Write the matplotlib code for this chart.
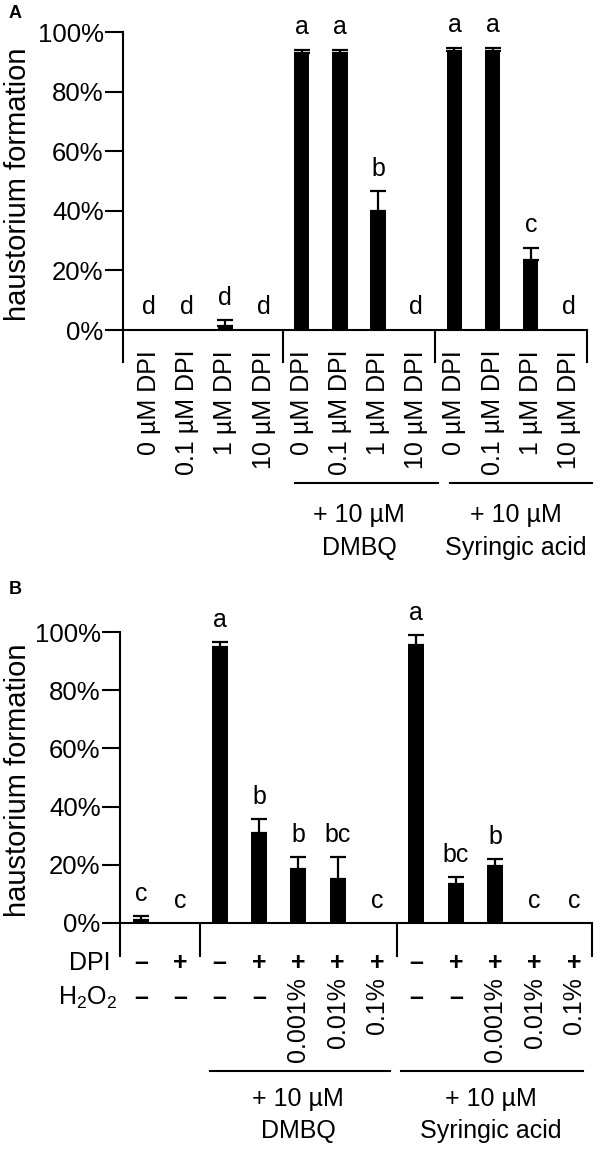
import numpy as np
import matplotlib
matplotlib.use("Agg")
import matplotlib.pyplot as plt
from matplotlib.transforms import blended_transform_factory

plt.rcParams.update({
    "font.family": ["Liberation Sans", "DejaVu Sans"],
    "mathtext.fontset": "custom",
    "mathtext.rm": "Liberation Sans",
    "axes.linewidth": 1.5,
})

# ---- data, panel A ----
a_labels = ["0 µM DPI", "0.1 µM DPI", "1 µM DPI", "10 µM DPI",
            "0 µM DPI", "0.1 µM DPI", "1 µM DPI", "10 µM DPI",
            "0 µM DPI", "0.1 µM DPI", "1 µM DPI", "10 µM DPI"]
a_values = [0, 0, 1.5, 0, 93.0, 93.0, 40.0, 0, 93.6, 93.6, 23.5, 0]
a_errors = [0, 0, 1.8, 0, 1.0, 1.0, 6.5, 0, 1.0, 1.0, 4.0, 0]
a_letters = ["d", "d", "d", "d", "a", "a", "b", "d", "a", "a", "c", "d"]

# ---- data, panel B ----
b_values = [1.0, 0, 94.8, 31.0, 18.7, 15.0, 0, 95.5, 13.3, 19.7, 0, 0]
b_errors = [1.3, 0, 1.8, 4.8, 4.0, 7.7, 0, 3.3, 2.4, 2.4, 0, 0]
b_letters = ["c", "c", "a", "b", "b", "bc", "c", "a", "bc", "b", "c", "c"]
b_dpi = ["–", "+", "–", "+", "+", "+", "+", "–", "+", "+", "+", "+"]
b_h2o2 = ["–", "–", "–", "–", "0.001%", "0.01%", "0.1%",
          "–", "–", "0.001%", "0.01%", "0.1%"]

group_top = ["+ 10 µM", "+ 10 µM"]
group_name = ["DMBQ", "Syringic acid"]
yticks = [0, 20, 40, 60, 80, 100]

FS = 18


def draw_bars(ax, values, errors, letters, xlim, width):
    x = np.arange(len(values))
    ax.bar(x, values, width=width, color="black", linewidth=0)
    err = np.array(errors)
    m = err > 0
    ax.errorbar(x[m], np.array(values)[m], yerr=[np.zeros(m.sum()), err[m]],
                fmt="none", ecolor="black", elinewidth=1.6, capsize=5.5, capthick=1.6)
    for xi, v, e, lab in zip(x, values, errors, letters):
        ax.text(xi, v + e + 7.6, lab, ha="center", va="center", fontsize=FS,
                clip_on=False)
    ax.set_xlim(*xlim)
    ax.set_ylim(0, 100)
    ax.set_yticks(yticks)
    ax.set_yticklabels([f"{t}%" for t in yticks])
    ax.set_xticks([])
    ax.tick_params(axis="y", direction="out", length=13, width=1.5, pad=1,
                   labelsize=18.5)
    ax.spines["top"].set_visible(False)
    ax.spines["right"].set_visible(False)
    ax.set_ylabel("haustorium formation", fontsize=21)


fig = plt.figure(figsize=(6.0, 11.53), dpi=100)

# ---- (A) ----
axA = fig.add_axes([123 / 600, 1 - 330 / 1153, 464 / 600, 298 / 1153])
xlimA = (-0.68, 11.47)
draw_bars(axA, a_values, a_errors, a_letters, xlimA, 0.40)
axA.yaxis.set_label_coords(-0.196, 0.49)
trA = blended_transform_factory(axA.transData, axA.transAxes)
for xs in [xlimA[0], 3.5, 7.5, xlimA[1]]:
    axA.plot([xs, xs], [0, -0.111], color="black", lw=1.5, transform=trA,
             clip_on=False, solid_capstyle="butt")
for i, lab in enumerate(a_labels):
    axA.text(i, -0.067, lab, rotation=90, ha="center", va="top", fontsize=FS,
             transform=trA)
for (x0, x1), xc, t1, t2 in zip([(3.82, 7.57), (7.88, 11.6)], [5.5, 9.6],
                                group_top, group_name):
    axA.plot([x0, x1], [-0.513, -0.513], color="black", lw=1.5, transform=trA,
             clip_on=False)
    axA.text(xc, -0.621, t1, ha="center", va="center", fontsize=FS, transform=trA)
    axA.text(xc, -0.732, t2, ha="center", va="center", fontsize=FS, transform=trA)

# ---- (B) ----
axB = fig.add_axes([120 / 600, 1 - 923 / 1153, 472 / 600, 291 / 1153])
xlimB = (-0.53, 11.46)
draw_bars(axB, b_values, b_errors, b_letters, xlimB, 0.41)
axB.yaxis.set_label_coords(-0.186, 0.49)
trB = blended_transform_factory(axB.transData, axB.transAxes)
for xs in [xlimB[0], 1.5, 6.5, xlimB[1]]:
    axB.plot([xs, xs], [0, -0.117], color="black", lw=1.5, transform=trB,
             clip_on=False, solid_capstyle="butt")
axB.text(-0.021, -0.137, "DPI", ha="right", va="center", fontsize=FS,
         transform=axB.transAxes)
axB.text(-0.006, -0.258, "H$_2$O$_2$", ha="right", va="center", fontsize=FS,
         transform=axB.transAxes)
for i, (d, h) in enumerate(zip(b_dpi, b_h2o2)):
    axB.text(i, -0.137, d, ha="center", va="center", fontsize=FS,
             fontweight="bold", transform=trB)
    if h.endswith("%"):
        axB.text(i, -0.186, h, rotation=90, ha="center", va="top", fontsize=FS,
                 transform=trB)
    else:
        axB.text(i, -0.258, h, ha="center", va="center", fontsize=FS,
                 fontweight="bold", transform=trB)
for (x0, x1), xc, t1, t2 in zip([(1.75, 6.32), (6.62, 11.22)], [4.0, 8.9],
                                group_top, group_name):
    axB.plot([x0, x1], [-0.509, -0.509], color="black", lw=1.5, transform=trB,
             clip_on=False)
    axB.text(xc, -0.605, t1, ha="center", va="center", fontsize=FS, transform=trB)
    axB.text(xc, -0.715, t2, ha="center", va="center", fontsize=FS, transform=trB)

fig.text(15 / 600, 1 - 13 / 1153, "A", fontsize=13, fontweight="bold",
         ha="center", va="center")
fig.text(15 / 600, 1 - 589 / 1153, "B", fontsize=13, fontweight="bold",
         ha="center", va="center")

fig.savefig("out.png", dpi=100, facecolor="white")
